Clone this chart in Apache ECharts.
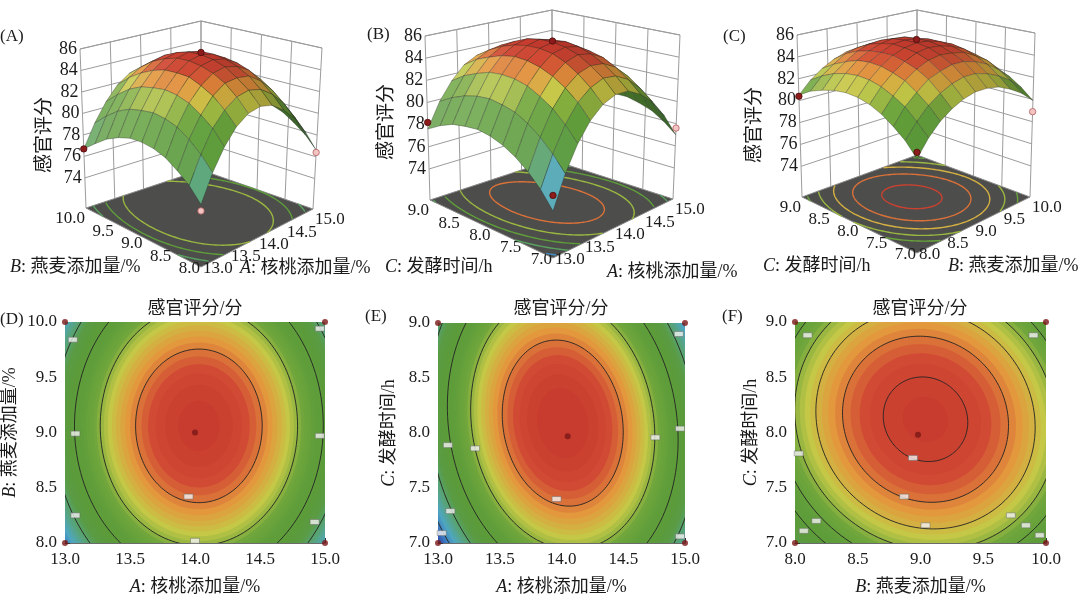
<!DOCTYPE html>
<html>
<head>
<meta charset="utf-8">
<script src="https://cdn.jsdelivr.net/npm/echarts@6/dist/echarts.min.js"></script>
<style>
  html, body { margin: 0; padding: 0; background: #fff; }
  #main { width: 1080px; height: 597px; }
</style>
</head>
<body>
<div id="main"></div>
<script>
// ---------- data ----------
const walnutTicks = [13.0, 13.5, 14.0, 14.5, 15.0];
const oatTicks = [8.0, 8.5, 9.0, 9.5, 10.0];
const timeTicks = [7.0, 7.5, 8.0, 8.5, 9.0];
const scoreTicks = [74, 76, 78, 80, 82, 84, 86];

// surface nodes (step 0.2)
const walnutNodes = [13.0, 13.2, 13.4, 13.6, 13.8, 14.0, 14.2, 14.4, 14.6, 14.8, 15.0];
const oatNodes = [8.0, 8.2, 8.4, 8.6, 8.8, 9.0, 9.2, 9.4, 9.6, 9.8, 10.0];
const timeNodes = [7.0, 7.2, 7.4, 7.6, 7.8, 8.0, 8.2, 8.4, 8.6, 8.8, 9.0];

// sensory score, rows = second factor, cols = first factor
const scoreWalnutOat = [
  [76.0, 78.1, 79.8, 81.1, 81.9, 82.2, 82.0, 81.3, 80.2, 78.6, 76.6],
  [77.1, 79.2, 81.0, 82.2, 83.0, 83.3, 83.1, 82.4, 81.3, 79.7, 77.7],
  [77.9, 80.1, 81.8, 83.1, 83.9, 84.1, 84.0, 83.3, 82.2, 80.6, 78.5],
  [78.6, 80.8, 82.5, 83.7, 84.5, 84.8, 84.6, 84.0, 82.9, 81.3, 79.2],
  [79.0, 81.2, 82.9, 84.2, 84.9, 85.2, 85.0, 84.4, 83.3, 81.7, 79.6],
  [79.2, 81.4, 83.1, 84.3, 85.1, 85.4, 85.2, 84.6, 83.5, 81.9, 79.8],
  [79.2, 81.3, 83.0, 84.3, 85.1, 85.4, 85.2, 84.5, 83.4, 81.8, 79.8],
  [78.9, 81.1, 82.8, 84.0, 84.8, 85.1, 84.9, 84.3, 83.1, 81.5, 79.5],
  [78.4, 80.6, 82.3, 83.5, 84.3, 84.6, 84.4, 83.7, 82.6, 81.0, 79.0],
  [77.6, 79.8, 81.5, 82.8, 83.5, 83.8, 83.6, 83.0, 81.9, 80.3, 78.2],
  [76.7, 78.8, 80.5, 81.8, 82.6, 82.9, 82.7, 82.0, 80.9, 79.3, 77.3]
];
const scoreWalnutTime = [
  [74.8, 77.3, 79.3, 80.8, 81.8, 82.3, 82.3, 81.7, 80.7, 79.1, 77.0],
  [76.1, 78.5, 80.5, 82.0, 82.9, 83.4, 83.3, 82.7, 81.6, 80.0, 77.9],
  [77.1, 79.5, 81.5, 82.9, 83.8, 84.2, 84.1, 83.5, 82.4, 80.7, 78.6],
  [77.9, 80.3, 82.2, 83.6, 84.5, 84.9, 84.7, 84.1, 82.9, 81.2, 79.0],
  [78.5, 80.9, 82.8, 84.1, 85.0, 85.3, 85.1, 84.4, 83.2, 81.5, 79.3],
  [78.9, 81.2, 83.1, 84.4, 85.2, 85.5, 85.3, 84.6, 83.3, 81.6, 79.3],
  [79.1, 81.4, 83.2, 84.5, 85.2, 85.5, 85.2, 84.5, 83.2, 81.4, 79.1],
  [79.0, 81.3, 83.1, 84.3, 85.0, 85.3, 85.0, 84.2, 82.9, 81.0, 78.7],
  [78.8, 81.0, 82.7, 83.9, 84.6, 84.8, 84.5, 83.7, 82.3, 80.5, 78.1],
  [78.3, 80.5, 82.2, 83.4, 84.0, 84.2, 83.8, 82.9, 81.6, 79.7, 77.3],
  [77.6, 79.8, 81.4, 82.6, 83.2, 83.3, 82.9, 82.0, 80.6, 78.6, 76.2]
];
const scoreOatTime = [
  [78.5, 79.8, 80.8, 81.5, 82.0, 82.3, 82.3, 82.1, 81.6, 80.9, 79.9],
  [79.6, 80.8, 81.8, 82.5, 83.0, 83.3, 83.3, 83.0, 82.5, 81.8, 80.8],
  [80.4, 81.7, 82.6, 83.4, 83.8, 84.1, 84.1, 83.8, 83.3, 82.5, 81.5],
  [81.1, 82.3, 83.3, 84.0, 84.5, 84.7, 84.6, 84.4, 83.8, 83.1, 82.0],
  [81.6, 82.8, 83.7, 84.4, 84.9, 85.1, 85.0, 84.7, 84.2, 83.4, 82.4],
  [81.9, 83.1, 84.0, 84.7, 85.1, 85.3, 85.2, 84.9, 84.4, 83.6, 82.5],
  [82.0, 83.2, 84.1, 84.7, 85.2, 85.3, 85.2, 84.9, 84.3, 83.5, 82.4],
  [81.9, 83.1, 84.0, 84.6, 85.0, 85.2, 85.1, 84.7, 84.1, 83.3, 82.2],
  [81.6, 82.8, 83.6, 84.3, 84.7, 84.8, 84.7, 84.3, 83.7, 82.9, 81.8],
  [81.2, 82.3, 83.1, 83.8, 84.1, 84.2, 84.1, 83.7, 83.1, 82.2, 81.1],
  [80.5, 81.6, 82.4, 83.0, 83.4, 83.5, 83.4, 83.0, 82.3, 81.4, 80.3]
];

// contour ellipses: centre, tilt of first semi-axis (deg), level, semi-axes
const centreWalnutOat = [14.03, 9.06];
const tiltWalnutOat = 0;
const levelsWalnutOat = [75.5, 75.75, 76, 76.25, 76.5, 76.75, 77, 77.25, 77.5, 77.75, 78, 78.25, 78.5, 78.75,
  79, 79.25, 79.5, 79.75, 80, 80.25, 80.5, 80.75, 81, 81.25, 81.5, 81.75, 82, 82.25, 82.5, 82.75,
  83, 83.25, 83.5, 83.75, 84, 84.25, 84.5, 84.75, 85, 85.25];
const axis1WalnutOat = [1.295, 1.279, 1.262, 1.245, 1.228, 1.211, 1.193, 1.175, 1.157, 1.139, 1.120, 1.101, 1.081, 1.062,
  1.041, 1.021, 1.000, 0.979, 0.957, 0.934, 0.911, 0.888, 0.864, 0.839, 0.813, 0.787, 0.759, 0.731, 0.701, 0.670,
  0.638, 0.604, 0.567, 0.529, 0.487, 0.441, 0.391, 0.332, 0.260, 0.159];
const axis2WalnutOat = [1.847, 1.824, 1.800, 1.776, 1.752, 1.727, 1.702, 1.676, 1.650, 1.625, 1.598, 1.570, 1.542, 1.515,
  1.485, 1.456, 1.426, 1.396, 1.365, 1.332, 1.299, 1.267, 1.232, 1.197, 1.160, 1.123, 1.083, 1.043, 1.000, 0.956,
  0.910, 0.862, 0.809, 0.755, 0.695, 0.629, 0.558, 0.474, 0.371, 0.227];
const linesWalnutOat = [84, 82, 80, 78, 76];
const floorWalnutOat = [82, 80, 78, 76];

const centreWalnutTime = [14.01, 8.09];
const tiltWalnutTime = 96.8;
const levelsWalnutTime = [75, 75.25, 75.5, 75.75, 76, 76.25, 76.5, 76.75, 77, 77.25, 77.5, 77.75, 78, 78.25,
  78.5, 78.75, 79, 79.25, 79.5, 79.75, 80, 80.25, 80.5, 80.75, 81, 81.25, 81.5, 81.75, 82, 82.25,
  82.5, 82.75, 83, 83.25, 83.5, 83.75, 84, 84.25, 84.5, 84.75, 85, 85.25];
const axis1WalnutTime = [1.994, 1.970, 1.946, 1.922, 1.897, 1.872, 1.846, 1.821, 1.794, 1.768, 1.741, 1.714, 1.686, 1.658,
  1.629, 1.600, 1.570, 1.539, 1.508, 1.477, 1.444, 1.411, 1.377, 1.343, 1.307, 1.270, 1.233, 1.194, 1.153, 1.112,
  1.068, 1.023, 0.976, 0.926, 0.874, 0.818, 0.758, 0.693, 0.621, 0.539, 0.443, 0.319];
const axis2WalnutTime = [1.277, 1.261, 1.246, 1.231, 1.215, 1.199, 1.182, 1.166, 1.149, 1.132, 1.115, 1.097, 1.080, 1.062,
  1.043, 1.024, 1.005, 0.985, 0.966, 0.946, 0.925, 0.903, 0.882, 0.860, 0.837, 0.813, 0.789, 0.765, 0.738, 0.712,
  0.684, 0.655, 0.625, 0.593, 0.560, 0.524, 0.485, 0.444, 0.398, 0.345, 0.284, 0.204];
const linesWalnutTime = [84, 82, 80, 78, 76];
const floorWalnutTime = [84, 82, 80, 78, 76];

const centreOatTime = [9.04, 8.12];
const tiltOatTime = 104.9;
const levelsOatTime = [78.5, 78.75, 79, 79.25, 79.5, 79.75, 80, 80.25, 80.5, 80.75, 81, 81.25, 81.5, 81.75,
  82, 82.25, 82.5, 82.75, 83, 83.25, 83.5, 83.75, 84, 84.25, 84.5, 84.75, 85, 85.25];
const axis1OatTime = [1.708, 1.677, 1.645, 1.612, 1.579, 1.545, 1.510, 1.474, 1.438, 1.400, 1.361, 1.322, 1.281, 1.239,
  1.195, 1.149, 1.102, 1.053, 1.001, 0.946, 0.888, 0.826, 0.758, 0.685, 0.602, 0.506, 0.386, 0.206];
const axis2OatTime = [1.474, 1.447, 1.419, 1.391, 1.362, 1.333, 1.303, 1.272, 1.241, 1.208, 1.174, 1.141, 1.105, 1.069,
  1.031, 0.991, 0.951, 0.909, 0.864, 0.816, 0.766, 0.713, 0.654, 0.591, 0.519, 0.437, 0.333, 0.178];
const linesOatTime = [85, 84, 83, 82, 81, 80];
const floorOatTime = [85, 84, 83, 82, 81];

const backgroundLevels = [75.0, 74.5, 78.0];

// design points: [x, y, score, 1 = above surface]
const runsWalnutOat = [[14, 9, 85.6, 1], [13, 10, 76.7, 1], [15, 8, 76.4, 0], [13, 8, 75.5, 0]];
const runsWalnutTime = [[14, 8, 85.6, 1], [13, 9, 78.2, 1], [15, 7, 77.6, 0], [13, 7, 76.0, 1]];
const runsOatTime = [[9, 8, 85.6, 1], [8, 9, 80.4, 1], [10, 7, 78.9, 0], [8, 7, 79.0, 1]];
const cornersWalnutOat = [[13, 8], [13, 10], [15, 8], [15, 10], [14, 9]];
const cornersWalnutTime = [[13, 7], [13, 9], [15, 7], [15, 9], [14.05, 7.97]];
const cornersOatTime = [[8, 7], [8, 9], [10, 7], [10, 9], [8.98, 7.98]];

// contour label boxes
const tagsWalnutOat = [[13.06, 9.84], [13.08, 8.25], [13.08, 8.99], [13.95, 8.42], [14.0, 8.02], [14.96, 9.94], [14.96, 8.97], [14.92, 8.19]];
const tagsWalnutTime = [[13.08, 7.89], [13.3, 7.86], [13.96, 7.4], [14.76, 7.96], [14.96, 8.04], [14.95, 8.9], [13.1, 7.29], [13.03, 7.09], [14.96, 7.06]];
const tagsOatTime = [[8.1, 8.88], [9.9, 8.88], [8.03, 7.81], [8.94, 7.77], [8.87, 7.42], [9.04, 7.16], [8.17, 7.2], [8.07, 7.11], [9.72, 7.25], [9.84, 7.16], [9.95, 7.07]];

// 74.5 ... 85.5, one colour per point
const scoreColors = ['#2a3a98', '#3a73c0', '#4ea6c0', '#57a47c', '#5a9b43', '#5c9b3a',
                     '#5f9e3a', '#70a63c', '#c4c846', '#e3983d', '#d14a34', '#c3372c'];

// ---------- layout ----------
const SERIF = 'Liberation Serif';
const FONT = '"Liberation Serif", "Noto Sans CJK SC", serif';
const TXT = '#1a1a1a';
const Z_MIN = 71.2, Z_MAX = 86;

const pairs = [
  { x: walnutNodes, y: oatNodes, z: scoreWalnutOat, xTicks: walnutTicks, yTicks: oatTicks,
    centre: centreWalnutOat, tilt: tiltWalnutOat, levels: levelsWalnutOat, r1: axis1WalnutOat, r2: axis2WalnutOat,
    lines: linesWalnutOat, floor: floorWalnutOat, runs: runsWalnutOat, corners: cornersWalnutOat, tags: tagsWalnutOat,
    xName: ['A', '核桃添加量/%'], yName: ['B', '燕麦添加量/%'] },
  { x: walnutNodes, y: timeNodes, z: scoreWalnutTime, xTicks: walnutTicks, yTicks: timeTicks,
    centre: centreWalnutTime, tilt: tiltWalnutTime, levels: levelsWalnutTime, r1: axis1WalnutTime, r2: axis2WalnutTime,
    lines: linesWalnutTime, floor: floorWalnutTime, runs: runsWalnutTime, corners: cornersWalnutTime, tags: tagsWalnutTime,
    xName: ['A', '核桃添加量/%'], yName: ['C', '发酵时间/h'] },
  { x: oatNodes, y: timeNodes, z: scoreOatTime, xTicks: oatTicks, yTicks: timeTicks,
    centre: centreOatTime, tilt: tiltOatTime, levels: levelsOatTime, r1: axis1OatTime, r2: axis2OatTime,
    lines: linesOatTime, floor: floorOatTime, runs: runsOatTime, corners: cornersOatTime, tags: tagsOatTime,
    xName: ['B', '燕麦添加量/%'], yName: ['C', '发酵时间/h'] }
];

// screen corners of each 3-D box (floor F,R,L,K and top TF,TR,TL,TK)
const boxes = [
  { F: [201, 267], R: [313, 209], L: [86, 208], K: [201, 170], TF: [201, 74], TR: [322, 48], TL: [80, 49], TK: [201, 21] },
  { F: [553, 258], R: [673, 199], L: [430, 200], K: [552, 160], TF: [553, 65], TR: [680, 35], TL: [425, 36], TK: [552, 10] },
  { F: [917, 253], R: [1030, 197], L: [802, 197], K: [917, 155], TF: [917, 62], TR: [1035, 33], TL: [797, 35], TK: [917, 10] }
];
const grids2d = [
  { left: 65, top: 322, width: 260, height: 222, yGap: 46 },
  { left: 438, top: 323, width: 247, height: 222, yGap: 40 },
  { left: 795, top: 322, width: 251, height: 222, yGap: 35 }
];

function project(box, u, v, w) {
  const bl = (a, b, c, d, k) => a[k] * (1 - u) * (1 - v) + b[k] * u * (1 - v) + c[k] * (1 - u) * v + d[k] * u * v;
  const fx = bl(box.F, box.R, box.L, box.K, 0), fy = bl(box.F, box.R, box.L, box.K, 1);
  const tx = bl(box.TF, box.TR, box.TL, box.TK, 0), ty = bl(box.TF, box.TR, box.TL, box.TK, 1);
  return [fx + (tx - fx) * w, fy + (ty - fy) * w];
}
const norm = (arr, val) => (val - arr[0]) / (arr[arr.length - 1] - arr[0]);
const depth = z => (z - Z_MIN) / (Z_MAX - Z_MIN);

function ellipsePoints(cx, cy, r1, r2, tiltDeg, n) {
  const a = tiltDeg * Math.PI / 180, ca = Math.cos(a), sa = Math.sin(a);
  const pts = [];
  for (let k = 0; k < n; k++) {
    const t = 2 * Math.PI * k / n;
    const p = r1 * Math.cos(t), q = r2 * Math.sin(t);
    pts.push([cx + p * ca - q * sa, cy + p * sa + q * ca]);
  }
  return pts;
}

function shade(c, k) {
  const rgb = echarts.color.parse(c);
  const f = v => k <= 1 ? v * k : v + (255 - v) * (k - 1);
  return 'rgb(' + [0, 1, 2].map(t => Math.round(f(rgb[t]))).join(',') + ')';
}

function ellipseData(pr, list) {
  return list.map(L => {
    const k = pr.levels.indexOf(L);
    return [pr.centre[0], pr.centre[1], L, pr.r1[k], pr.r2[k], pr.tilt];
  });
}

const txt = (x, y, text, align, extra, size) => Object.assign({
  type: 'text', x: x, y: y,
  style: { text: text, fontSize: size || 17, fontFamily: FONT, fill: TXT, align: align || 'left', verticalAlign: 'middle' }
}, extra || {});

// ---------- 3-D panels ----------
function frameItem(p) {
  return function (params, api) {
    const box = boxes[p], pr = pairs[p];
    const C = (u, v, w) => api.coord(project(box, u, v, w));
    const kids = [];
    const line = (a, b) => kids.push({ type: 'line', shape: { x1: a[0], y1: a[1], x2: b[0], y2: b[1] },
      style: { stroke: '#9c9c9c', lineWidth: 1 } });
    kids.push({ type: 'polygon', shape: { points: [C(0, 0, 0), C(1, 0, 0), C(1, 1, 0), C(0, 1, 0)] },
      style: { fill: '#4d4d4b', stroke: '#8a8a8a', lineWidth: 1 } });
    scoreTicks.forEach(z => { const w = depth(z); line(C(0, 1, w), C(1, 1, w)); line(C(1, 1, w), C(1, 0, w)); });
    line(C(0, 1, 1), C(1, 1, 1)); line(C(1, 1, 1), C(1, 0, 1));
    pr.xTicks.forEach(x => { const u = norm(pr.xTicks, x); line(C(u, 1, 0), C(u, 1, 1)); });
    pr.yTicks.forEach(y => { const v = norm(pr.yTicks, y); line(C(1, v, 0), C(1, v, 1)); });
    scoreTicks.forEach(z => {
      const q = C(0, 1, depth(z));
      kids.push({ type: 'text', style: { text: String(z), x: q[0] - 3, y: q[1], fontSize: 18, fontFamily: SERIF,
        fill: TXT, align: 'right', verticalAlign: 'middle' } });
    });
    pr.yTicks.forEach(y => {
      const v = norm(pr.yTicks, y), q = C(0, v, 0);
      kids.push({ type: 'text', style: { text: y.toFixed(1), x: q[0] - 1, y: q[1] + 2 + 9 * v, fontSize: 17,
        fontFamily: SERIF, fill: TXT, align: 'right', verticalAlign: 'middle' } });
    });
    pr.xTicks.forEach(x => {
      const u = norm(pr.xTicks, x), q = C(u, 0, 0);
      kids.push({ type: 'text', style: { text: x.toFixed(1), x: q[0] + 2, y: q[1] + 2 + 9 * u, fontSize: 17,
        fontFamily: SERIF, fill: TXT, align: 'left', verticalAlign: 'middle' } });
    });
    return { type: 'group', children: kids };
  };
}

function floorItem(p) {
  return function (params, api) {
    const box = boxes[p], pr = pairs[p];
    const pts = ellipsePoints(api.value(0), api.value(1), api.value(3), api.value(4), api.value(5), 180);
    pts.push(pts[0]);
    const runs = []; let cur = [];
    pts.forEach(q => {
      const u = norm(pr.x, q[0]), v = norm(pr.y, q[1]);
      if (u >= 0 && u <= 1 && v >= 0 && v <= 1) cur.push(api.coord(project(box, u, v, 0)));
      else { if (cur.length > 1) runs.push(cur); cur = []; }
    });
    if (cur.length > 1) runs.push(cur);
    return { type: 'group', children: runs.map(r => ({ type: 'polyline', shape: { points: r },
      style: { stroke: api.visual('color'), lineWidth: 1.4, fill: 'none' } })) };
  };
}

function surfaceData(z) {
  const cells = [];
  for (let j = 0; j < z.length - 1; j++) {
    for (let i = 0; i < z[j].length - 1; i++) {
      cells.push([i, j, (z[j][i] + z[j][i + 1] + z[j + 1][i] + z[j + 1][i + 1]) / 4]);
    }
  }
  cells.sort((a, b) => (b[0] + b[1]) - (a[0] + a[1]));
  return cells;
}

function surfaceItem(p) {
  const box = boxes[p], pr = pairs[p], z = pr.z;
  return function (params, api) {
    const i = api.value(0), j = api.value(1);
    const P = (ii, jj) => api.coord(project(box, norm(pr.x, pr.x[ii]), norm(pr.y, pr.y[jj]), depth(z[jj][ii])));
    const du = norm(pr.x, pr.x[i + 1]) - norm(pr.x, pr.x[i]);
    const dv = norm(pr.y, pr.y[j + 1]) - norm(pr.y, pr.y[j]);
    const zu = ((z[j][i + 1] + z[j + 1][i + 1]) - (z[j][i] + z[j + 1][i])) / 2 / du;
    const zv = ((z[j + 1][i] + z[j + 1][i + 1]) - (z[j][i] + z[j][i + 1])) / 2 / dv;
    const k = Math.max(0.62, Math.min(1.2, 0.95 + 0.01 * (zu - zv)));
    return {
      type: 'polygon', z2: params.dataIndex,
      shape: { points: [P(i, j), P(i + 1, j), P(i + 1, j + 1), P(i, j + 1)] },
      style: { fill: shade(api.visual('color'), k), stroke: 'rgba(30,30,30,0.5)', lineWidth: 0.6 }
    };
  };
}

function runItem(p) {
  return function (params, api) {
    const pr = pairs[p];
    const q = api.coord(project(boxes[p], norm(pr.x, api.value(0)), norm(pr.y, api.value(1)), depth(api.value(2))));
    const above = api.value(3) === 1;
    return { type: 'circle', shape: { cx: q[0], cy: q[1], r: 3.2 },
      style: { fill: above ? '#8e1b1b' : '#f3c4c4', stroke: above ? '#4b0c0c' : '#b25c5c', lineWidth: 0.8 } };
  };
}

// ---------- 2-D panels ----------
function backItem(params, api) {
  const cs = params.coordSys;
  return { type: 'rect', shape: { x: cs.x, y: cs.y, width: cs.width, height: cs.height },
    style: { fill: api.visual('color') } };
}
function fillItem(params, api) {
  const pts = ellipsePoints(api.value(0), api.value(1), api.value(3), api.value(4), api.value(5), 120).map(q => api.coord(q));
  return { type: 'polygon', shape: { points: pts }, style: { fill: api.visual('color') } };
}
function lineItem(params, api) {
  const pts = ellipsePoints(api.value(0), api.value(1), api.value(3), api.value(4), api.value(5), 160).map(q => api.coord(q));
  pts.push(pts[0]);
  return { type: 'polyline', shape: { points: pts }, style: { stroke: '#222', lineWidth: 0.9, fill: 'none' } };
}

function axis2d(gridIndex, ticks, nm, gap) {
  return {
    type: 'value', gridIndex: gridIndex, min: ticks[0], max: ticks[ticks.length - 1], interval: 0.5,
    axisLine: { show: true, lineStyle: { color: '#6b6b6b', width: 1 } },
    axisTick: { show: true, inside: true, length: 5, lineStyle: { color: '#333' } },
    splitLine: { show: false },
    axisLabel: { formatter: v => v.toFixed(1), fontFamily: SERIF, fontSize: 17, color: TXT, margin: 8 },
    name: '{i|' + nm[0] + '}: ' + nm[1], nameLocation: 'middle', nameGap: gap,
    nameTextStyle: { fontFamily: FONT, fontSize: 18, color: TXT,
      rich: { i: { fontStyle: 'italic', fontFamily: SERIF, fontSize: 18, color: TXT } } }
  };
}

const grid = [], xAxis = [], yAxis = [], series = [], mapped = [];
grids2d.forEach((g, p) => {
  grid.push({ left: g.left, top: g.top, width: g.width, height: g.height });
  xAxis.push(axis2d(p, pairs[p].xTicks, pairs[p].xName, 35));
  yAxis.push(axis2d(p, pairs[p].yTicks, pairs[p].yName, g.yGap));
});
grid.push({ left: 0, top: 0, width: 1080, height: 597 });
xAxis.push({ type: 'value', gridIndex: 3, min: 0, max: 1080, show: false });
yAxis.push({ type: 'value', gridIndex: 3, min: 0, max: 597, inverse: true, show: false });

const add = (s, useMap) => { if (useMap) mapped.push(series.length); series.push(s); };

pairs.forEach((pr, p) => {
  // 3-D
  add({ type: 'custom', xAxisIndex: 3, yAxisIndex: 3, z: 1, silent: true, renderItem: frameItem(p), data: [[0, 0]] });
  add({ type: 'custom', xAxisIndex: 3, yAxisIndex: 3, z: 2, silent: true, renderItem: floorItem(p), data: ellipseData(pr, pr.floor) }, true);
  add({ type: 'custom', xAxisIndex: 3, yAxisIndex: 3, z: 3, silent: true, renderItem: surfaceItem(p), data: surfaceData(pr.z) }, true);
  add({ type: 'custom', xAxisIndex: 3, yAxisIndex: 3, z: 4, silent: true, renderItem: runItem(p), data: pr.runs });
  // 2-D
  add({ type: 'custom', xAxisIndex: p, yAxisIndex: p, z: 1, silent: true, clip: true, renderItem: backItem,
    data: [[pr.centre[0], pr.centre[1], backgroundLevels[p]]] }, true);
  add({ type: 'custom', xAxisIndex: p, yAxisIndex: p, z: 2, silent: true, clip: true, renderItem: fillItem,
    data: ellipseData(pr, pr.levels) }, true);
  add({ type: 'custom', xAxisIndex: p, yAxisIndex: p, z: 3, silent: true, clip: true, renderItem: lineItem,
    data: ellipseData(pr, pr.lines) });
  add({ type: 'scatter', xAxisIndex: p, yAxisIndex: p, z: 4, silent: true, symbol: 'rect', symbolSize: [9, 5],
    itemStyle: { color: '#f2f2f2', borderColor: '#6a6a6a', borderWidth: 0.6 }, data: pr.tags });
  add({ type: 'scatter', xAxisIndex: p, yAxisIndex: p, z: 5, silent: true, symbolSize: 6, clip: false,
    itemStyle: { color: '#7a1616' }, data: pr.corners });
});

const graphic = [
  txt(0, 37, '(A)'), txt(367, 35, '(B)'), txt(723, 37, '(C)'),
  txt(0, 320, '(D)'), txt(365, 317, '(E)'), txt(722, 317, '(F)'),
  txt(195, 309, '感官评分/分', 'center', null, 18), txt(561, 309, '感官评分/分', 'center', null, 18),
  txt(920, 309, '感官评分/分', 'center', null, 18),
  txt(45, 135, '感官评分', 'center', { rotation: Math.PI / 2 }, 19),
  txt(387, 122, '感官评分', 'center', { rotation: Math.PI / 2 }, 19),
  txt(755, 125, '感官评分', 'center', { rotation: Math.PI / 2 }, 19)
];
const rich = { i: { fontStyle: 'italic', fontFamily: SERIF, fontSize: 18, fill: TXT } };
[[10, 267, pairs[0].yName], [240, 268, pairs[0].xName],
 [385, 267, pairs[1].yName], [607, 272, pairs[1].xName],
 [763, 266, pairs[2].yName], [948, 266, pairs[2].xName]].forEach(a => {
  const t = txt(a[0], a[1], '{i|' + a[2][0] + '}: ' + a[2][1], 'left', null, 18);
  t.style.rich = rich;
  graphic.push(t);
});

const chart = echarts.init(document.getElementById('main'));
chart.setOption({
  animation: false,
  backgroundColor: '#fff',
  grid: grid, xAxis: xAxis, yAxis: yAxis,
  visualMap: { type: 'continuous', show: false, dimension: 2, seriesIndex: mapped,
    min: 74.5, max: 85.5, inRange: { color: scoreColors } },
  graphic: graphic,
  series: series
});
</script>
</body>
</html>
